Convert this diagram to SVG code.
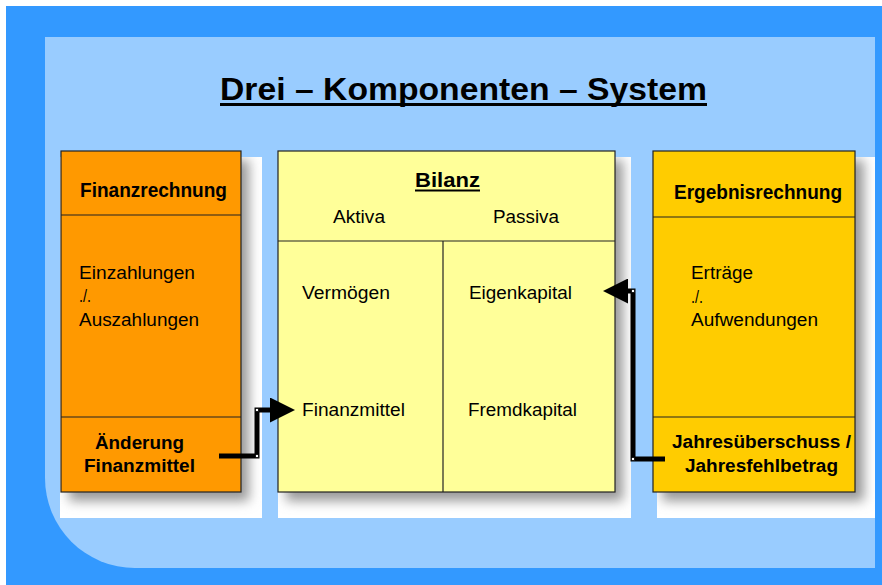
<svg xmlns="http://www.w3.org/2000/svg" width="882" height="585" viewBox="0 0 882 585">
<style>
.b{font-family:"Liberation Sans",Arial,sans-serif;font-weight:bold;font-size:18px;fill:#000}
.hd{font-size:19.5px}
.r{font-family:"Liberation Sans",Arial,sans-serif;font-size:17.5px;fill:#000}
.box{stroke:#222;stroke-width:1.2}
.ln{stroke:#222;stroke-width:1.2}
.con{fill:none;stroke:#000;stroke-width:5}
.h{fill:#fff;stroke:#000;stroke-width:0.8}
</style>
<defs>
<filter id="sh" x="-20%" y="-20%" width="140%" height="140%"><feGaussianBlur stdDeviation="6"/></filter>
<clipPath id="c1"><rect x="60" y="157" width="202" height="361"/></clipPath>
<clipPath id="c2"><rect x="278" y="157" width="353" height="361"/></clipPath>
<clipPath id="c3"><rect x="657" y="157" width="218" height="361"/></clipPath>
<marker id="ar" markerWidth="5" markerHeight="5" refX="1" refY="2.5" orient="auto" markerUnits="strokeWidth" viewBox="0 0 5 5"><path d="M0,0 L5,2.5 L0,5 Z" fill="#000"/></marker>
</defs>
<rect x="0" y="0" width="882" height="585" fill="#fff"/>
<rect x="6" y="6" width="876" height="579" fill="#3399FF"/>
<path d="M45,37 H875 V568 H135 A90,90 0 0 1 45,478 Z" fill="#99CCFF"/>
<text x="220" y="100" textLength="487" lengthAdjust="spacingAndGlyphs" style="font-family:'Liberation Sans',Arial,sans-serif;font-weight:bold;font-size:31px">Drei – Komponenten – System</text>
<line x1="220" y1="104.5" x2="707" y2="104.5" stroke="#000" stroke-width="3"/>
<g id="finanzrechnung">
<rect x="60" y="157" width="202" height="361" fill="#fff"/>
<g clip-path="url(#c1)"><rect x="69" y="160" width="180" height="341" fill="#999" filter="url(#sh)"/></g>
<rect class="box" x="61" y="151" width="180" height="341" fill="#FF9900"/>
<line class="ln" x1="61" y1="215" x2="241" y2="215"/>
<line class="ln" x1="61" y1="417" x2="241" y2="417"/>
<text class="b hd" x="80" y="197" textLength="147" lengthAdjust="spacingAndGlyphs">Finanzrechnung</text>
<text class="r" x="79" y="279" textLength="116" lengthAdjust="spacingAndGlyphs">Einzahlungen</text>
<text class="r" x="79" y="302" textLength="12" lengthAdjust="spacingAndGlyphs">./.</text>
<text class="r" x="79" y="326" textLength="120" lengthAdjust="spacingAndGlyphs">Auszahlungen</text>
<text class="b" x="95" y="449" textLength="89" lengthAdjust="spacingAndGlyphs">Änderung</text>
<text class="b" x="84" y="472" textLength="111" lengthAdjust="spacingAndGlyphs">Finanzmittel</text>
</g>
<g id="bilanz">
<rect x="278" y="157" width="353" height="361" fill="#fff"/>
<g clip-path="url(#c2)"><rect x="286" y="160" width="337" height="341" fill="#999" filter="url(#sh)"/></g>
<rect class="box" x="278" y="151" width="337" height="341" fill="#FFFF99"/>
<line class="ln" x1="278" y1="241" x2="615" y2="241"/>
<line class="ln" x1="443" y1="241" x2="443" y2="492"/>
<text class="b hd" x="415" y="187" textLength="65" lengthAdjust="spacingAndGlyphs">Bilanz</text>
<line x1="415" y1="190.5" x2="480" y2="190.5" stroke="#000" stroke-width="2.2"/>
<text class="r" x="333" y="223" textLength="52" lengthAdjust="spacingAndGlyphs">Aktiva</text>
<text class="r" x="493" y="223" textLength="66" lengthAdjust="spacingAndGlyphs">Passiva</text>
<text class="r" x="302" y="299" textLength="88" lengthAdjust="spacingAndGlyphs">Vermögen</text>
<text class="r" x="469" y="299" textLength="103" lengthAdjust="spacingAndGlyphs">Eigenkapital</text>
<text class="r" x="302" y="416" textLength="103" lengthAdjust="spacingAndGlyphs">Finanzmittel</text>
<text class="r" x="468" y="416" textLength="109" lengthAdjust="spacingAndGlyphs">Fremdkapital</text>
</g>
<g id="ergebnisrechnung">
<rect x="657" y="157" width="218" height="361" fill="#fff"/>
<g clip-path="url(#c3)"><rect x="662" y="160" width="202" height="341" fill="#999" filter="url(#sh)"/></g>
<rect class="box" x="653" y="151" width="202" height="341" fill="#FFCC00"/>
<line class="ln" x1="653" y1="217" x2="855" y2="217"/>
<line class="ln" x1="653" y1="417" x2="855" y2="417"/>
<text class="b hd" x="674" y="199" textLength="168" lengthAdjust="spacingAndGlyphs">Ergebnisrechnung</text>
<text class="r" x="691" y="279" textLength="62" lengthAdjust="spacingAndGlyphs">Erträge</text>
<text class="r" x="691" y="303" textLength="12" lengthAdjust="spacingAndGlyphs">./.</text>
<text class="r" x="691" y="326" textLength="127" lengthAdjust="spacingAndGlyphs">Aufwendungen</text>
<text class="b" x="672" y="448" textLength="179" lengthAdjust="spacingAndGlyphs">Jahresüberschuss /</text>
<text class="b" x="685" y="472" textLength="153" lengthAdjust="spacingAndGlyphs">Jahresfehlbetrag</text>
</g>
<g id="connectors">
<path class="con" d="M219,456 H257 V410 H275" marker-end="url(#ar)"/>
<path class="con" d="M665,459 H633 V291 H623" marker-end="url(#ar)"/>
<rect class="h" x="255.5" y="408.5" width="3" height="3"/>
<rect class="h" x="255.5" y="454.5" width="3" height="3"/>
<rect class="h" x="631.5" y="289.5" width="3" height="3"/>
<rect class="h" x="631.5" y="457.5" width="3" height="3"/>
</g>
</svg>
